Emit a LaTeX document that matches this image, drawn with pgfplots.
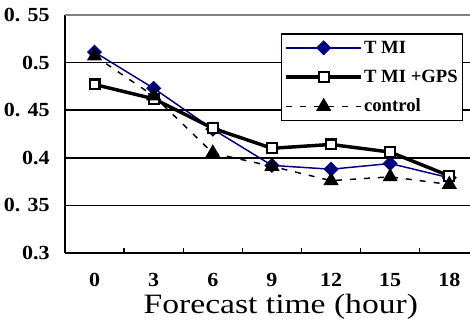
\documentclass[border=0pt]{standalone}
\usepackage{pgfplots}
\pgfplotsset{compat=1.18}
\usepackage{fontspec}
\setmainfont{Liberation Serif}
\newfontfamily\tickfont[FakeStretch=1.1]{Liberation Serif Bold}
\newfontfamily\labelfont[FakeStretch=1.2]{Liberation Serif}
\definecolor{navy}{RGB}{0,0,128}
\begin{document}
\begin{tikzpicture}
\begin{axis}[
  scale only axis,
  width=303.75pt, height=178.5pt,
  xmin=-0.5, xmax=6.35,
  ymin=0.3, ymax=0.55,
  clip=false,
  axis x line=bottom, axis y line=left,
  axis line style={black, line width=2pt, -},
  xtick={0,1,2,3,4,5,6},
  xticklabels={0,3,6,9,12,15,18},
  minor xtick={0.5,1.5,2.5,3.5,4.5,5.5},
  major tick length=0pt,
  minor tick length=4pt,
  tick style={black, line width=1.1pt},
  xtick pos=bottom,
  tick align=inside,
  ytick={0.3,0.35,0.4,0.45,0.5,0.55},
  yticklabels={0.3,0. 35,0.4,0. 45,0.5,0. 55},
  ymajorgrids,
  grid style={black, line width=1.3pt},
  tick label style={font=\tickfont\fontsize{15pt}{17pt}\selectfont},
  xticklabel style={anchor=center, yshift=-20pt},
  yticklabel style={anchor=east, xshift=-8pt},
  xlabel={Forecast time (hour)},
  xlabel style={font=\labelfont\fontsize{21pt}{23pt}\selectfont, at={(axis description cs:0.5,0)}, anchor=base, yshift=-45.75pt, xshift=10pt},
  legend cell align=left,
  legend style={at={(rel axis cs:0.983,0.924)}, anchor=north east,
    draw=black, line width=1.1pt, font=\bfseries\fontsize{14pt}{16pt}\selectfont,
    inner sep=2.5pt, row sep=6pt,
    nodes={inner sep=1pt, text height=11pt, text depth=3pt}},
  legend image code/.code={\draw[mark repeat=2,mark phase=2,#1] plot coordinates {(0pt,0pt) (28pt,0pt) (56pt,0pt)};},
]
\addplot[navy, line width=1.1pt, mark=square*, mark size=3.45pt, mark options={fill=navy, solid, rotate=45}]
  coordinates {(0,0.511) (1,0.473) (2,0.430) (3,0.392) (4,0.388) (5,0.394) (6,0.379)};
\addlegendentry{T MI}
\addplot[black, line width=2.6pt, mark=square*, mark size=3.7pt, mark options={fill=white, line width=1.6pt, solid}]
  coordinates {(0,0.477) (1,0.462) (2,0.431) (3,0.410) (4,0.414) (5,0.406) (6,0.381)};
\addlegendentry{T MI +GPS}
\addplot[black, line width=1.1pt, dash pattern=on 4.5pt off 6pt, mark=triangle*, mark size=5.5pt, mark options={fill=black, solid}]
  coordinates {(0,0.507) (1,0.465) (2,0.405) (3,0.391) (4,0.376) (5,0.380) (6,0.372)};
\addlegendentry{control}
\draw[gray, line width=1pt] (rel axis cs:0,1) -- (rel axis cs:1,1);
\end{axis}
\pgfresetboundingbox
\path ([shift={(-48.75pt,-50.25pt)}]current axis.south west) rectangle ([shift={(0pt,11.25pt)}]current axis.north east);
\end{tikzpicture}
\end{document}
